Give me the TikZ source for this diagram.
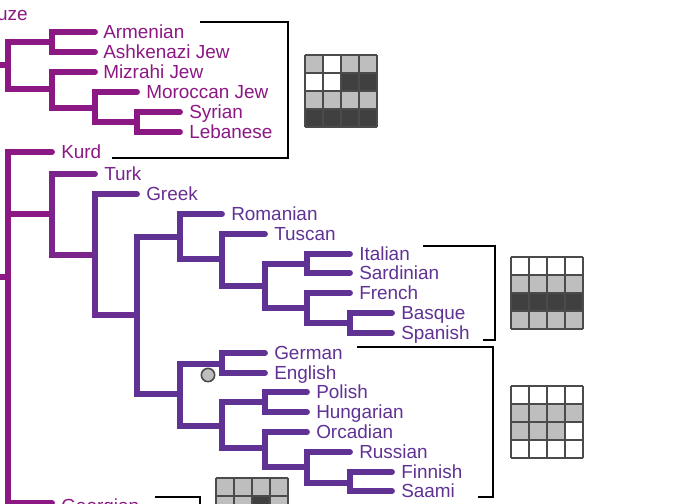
\documentclass[tikz,border=0pt]{standalone}
\usepackage{fontspec}
\setmainfont{Liberation Sans}
\definecolor{cM}{RGB}{140,24,132}
\definecolor{cT}{RGB}{122,36,140}
\definecolor{cG}{RGB}{106,46,146}
\definecolor{cV}{RGB}{96,50,148}
\definecolor{gL}{RGB}{190,190,190}
\definecolor{gD}{RGB}{64,64,64}
\definecolor{gE}{RGB}{75,75,75}
\tikzset{
  br/.style={line width=4.4pt, line cap=round, line join=miter},
  leaf/.style={anchor=base west, inner sep=0pt, yshift=-5pt, font=\fontsize{14.2}{16}\selectfont},
  bracket/.style={black, line width=2pt, line join=miter},
  cell/.style={draw=gE, line width=1.1pt},
}
\newcommand{\gridrow}[4]{%
  \foreach \c [count=\i from 0] in {#4} {
    \fill[\c] (#1+\i*18,#2+#3*18) rectangle ++(18,18);
  }
}
\newcommand{\gridlines}[3]{%
  \foreach \k in {0,...,4} {
    \draw[cell] (#1+\k*18,#2) -- (#1+\k*18,#2+#3*18);
  }
  \foreach \k in {0,...,#3} {
    \draw[cell] (#1,#2+\k*18) -- (#1+72,#2+\k*18);
  }
}
\begin{document}
\begin{tikzpicture}[x=0.75pt,y=-0.75pt]
\clip (0,0) rectangle (690,504);
\fill[white] (0,0) rectangle (690,504);

% ---- magenta part
\begin{scope}[draw=cM, br]
\draw (0,65)--(8,65);
\draw (52,42)--(8,42)--(8,89)--(52,89);
\draw (95,32)--(52,32)--(52,52)--(95,52);
\draw (95,72)--(52,72)--(52,108)--(95,108);
\draw (137,92)--(95,92)--(95,122)--(137,122);
\draw (180,112)--(137,112)--(137,132)--(180,132);
\draw (0,277)--(8,277);
\draw (52,152)--(8,152)--(8,503)--(52,503);
\draw (8,214)--(52,214);
\end{scope}
\begin{scope}[draw=cT, br]
\draw (95,174)--(52,174)--(52,255)--(95,255);
\end{scope}
\begin{scope}[draw=cG, br]
\draw (137,194)--(95,194)--(95,315)--(137,315);
\end{scope}
\begin{scope}[draw=cV, br]
\draw (180,237)--(137,237)--(137,394)--(180,394);
\draw (222,214)--(180,214)--(180,259)--(222,259);
\draw (265,234)--(222,234)--(222,286)--(265,286);
\draw (307,264)--(265,264)--(265,308)--(307,308);
\draw (350,254)--(307,254)--(307,273)--(350,273);
\draw (350,293)--(307,293)--(307,323)--(350,323);
\draw (392,313)--(350,313)--(350,333)--(392,333);
\draw (222,364)--(180,364)--(180,426)--(222,426);
\draw (265,353)--(222,353)--(222,373)--(265,373);
\draw (265,402)--(222,402)--(222,448)--(265,448);
\draw (307,392)--(265,392)--(265,412)--(307,412);
\draw (307,432)--(265,432)--(265,467)--(307,467);
\draw (350,452)--(307,452)--(307,483)--(350,483);
\draw (392,472)--(350,472)--(350,491)--(392,491);
\end{scope}

% circle
\node[circle, draw=gE, fill=gL, line width=1.2pt, minimum size=10pt, inner sep=0pt] (dot) at (208,375) {};

% ---- labels
\node[leaf, text=cM, anchor=base east] (druze) at (28,14) {Druze};
\node[leaf, text=cM] (armenian) at (103,32) {Armenian};
\node[leaf, text=cM] (ashkenazi) at (103,52) {Ashkenazi Jew};
\node[leaf, text=cM] (mizrahi) at (103,72) {Mizrahi Jew};
\node[leaf, text=cM] (moroccan) at (146,92) {Moroccan Jew};
\node[leaf, text=cM] (syrian) at (189,112) {Syrian};
\node[leaf, text=cM] (lebanese) at (189,132) {Lebanese};
\node[leaf, text=cM] (kurd) at (61,152) {Kurd};
\node[leaf, text=cT] (turk) at (104,174) {Turk};
\node[leaf, text=cG] (greek) at (146,194) {Greek};
\node[leaf, text=cV] (romanian) at (231,214) {Romanian};
\node[leaf, text=cV] (tuscan) at (274,234) {Tuscan};
\node[leaf, text=cV] (italian) at (359,254) {Italian};
\node[leaf, text=cV] (sardinian) at (359,273) {Sardinian};
\node[leaf, text=cV] (french) at (359,293) {French};
\node[leaf, text=cV] (basque) at (401,313) {Basque};
\node[leaf, text=cV] (spanish) at (401,333) {Spanish};
\node[leaf, text=cV] (german) at (274,353) {German};
\node[leaf, text=cV] (english) at (274,373) {English};
\node[leaf, text=cV] (polish) at (316,392) {Polish};
\node[leaf, text=cV] (hungarian) at (316,412) {Hungarian};
\node[leaf, text=cV] (orcadian) at (316,432) {Orcadian};
\node[leaf, text=cV] (russian) at (359,452) {Russian};
\node[leaf, text=cV] (finnish) at (401,472) {Finnish};
\node[leaf, text=cV] (saami) at (401,491) {Saami};
\node[leaf, text=cM] (georgian) at (61,506) {Georgian};

% ---- brackets
\draw[bracket] (200,22)--(288,22)--(288,158)--(112,158);
\draw[bracket] (423,246)--(495,246)--(495,340)--(483,340);
\draw[bracket] (357,347)--(493,347)--(493,497)--(478,497);
\draw[bracket] (155,497)--(200,497)--(200,512);

% ---- grids
\gridrow{305}{55}{0}{gL,white,gL,gL}
\gridrow{305}{55}{1}{white,white,gD,gD}
\gridrow{305}{55}{2}{gL,gL,gL,gL}
\gridrow{305}{55}{3}{gD,gD,gD,gD}
\gridlines{305}{55}{4}

\gridrow{511}{257}{0}{white,white,white,white}
\gridrow{511}{257}{1}{gL,gL,gL,gL}
\gridrow{511}{257}{2}{gD,gD,gD,gD}
\gridrow{511}{257}{3}{gL,gL,gL,gL}
\gridlines{511}{257}{4}

\gridrow{511}{386}{0}{white,white,white,white}
\gridrow{511}{386}{1}{gL,gL,gL,gL}
\gridrow{511}{386}{2}{gL,gL,gL,white}
\gridrow{511}{386}{3}{white,white,white,white}
\gridlines{511}{386}{4}

\gridrow{216}{478}{0}{gL,gL,gL,gL}
\gridrow{216}{478}{1}{gL,gL,gD,gL}
\gridlines{216}{478}{2}
\end{tikzpicture}
\end{document}
